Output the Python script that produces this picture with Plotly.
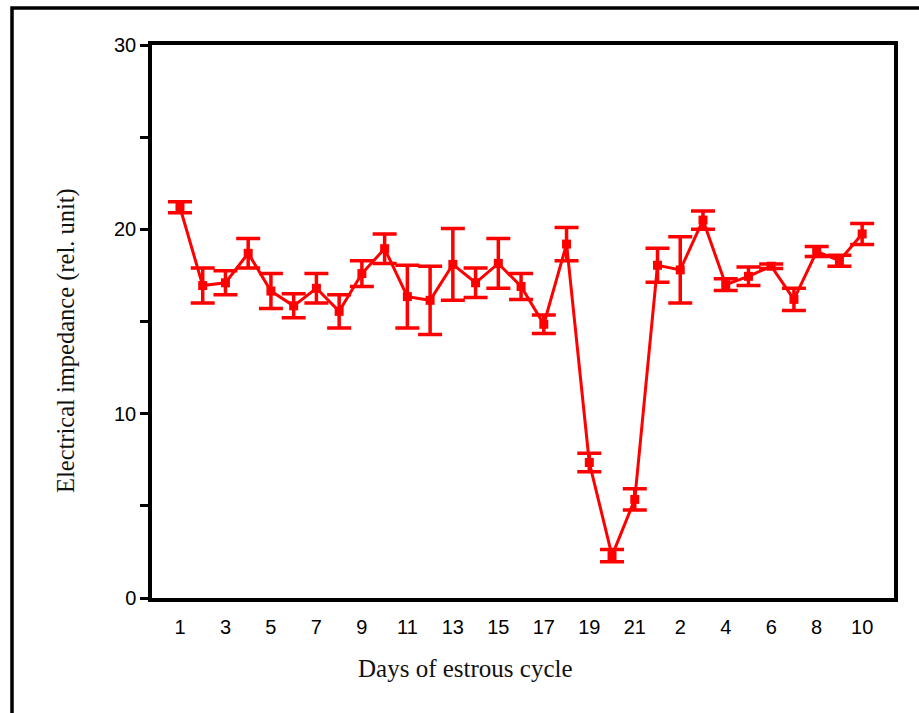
import plotly.graph_objects as go

# Data
day_labels = ["1","2","3","4","5","6","7","8","9","10","11","12","13","14","15","16","17","18","19","20","21",
              "1","2","3","4","5","6","7","8","9","10"]
impedance = [21.2, 16.95, 17.1, 18.7, 16.65, 15.85, 16.8, 15.55, 17.6, 18.95, 16.35, 16.15, 18.1,
             17.1, 18.15, 16.9, 14.85, 19.2, 7.35, 2.3, 5.35,
             18.05, 17.8, 20.5, 17.0, 17.45, 18.0, 16.2, 18.8, 18.3, 19.75]
sem = [0.3, 0.95, 0.65, 0.8, 0.95, 0.65, 0.8, 0.9, 0.7, 0.8, 1.7, 1.85, 1.95,
       0.8, 1.35, 0.7, 0.5, 0.9, 0.5, 0.33, 0.58,
       0.92, 1.8, 0.5, 0.32, 0.5, 0.12, 0.6, 0.27, 0.3, 0.57]
tick_idx = [0, 2, 4, 6, 8, 10, 12, 14, 16, 18, 20, 22, 24, 26, 28, 30]
tick_text = [day_labels[i] for i in tick_idx]

x = list(range(len(impedance)))

W, H = 919, 713
ml, mr, mt, mb = 152, 25, 45, 115
pw, ph = W - ml - mr, H - mt - mb

def px(xpix):
    return (xpix - ml) / pw

def py(ypix):
    return (H - mb - ypix) / ph

fig = go.Figure()
fig.add_trace(go.Scatter(
    x=x, y=impedance, mode="lines+markers",
    line=dict(color="#ff0000", width=3),
    marker=dict(symbol="square", size=9, color="#ff0000"),
    error_y=dict(type="data", array=sem, visible=True, color="#ff0000", thickness=3.5, width=12),
    showlegend=False,
    cliponaxis=False,
))

fig.update_layout(
    width=W, height=H,
    margin=dict(l=ml, r=mr, t=mt, b=mb),
    paper_bgcolor="white", plot_bgcolor="white",
    font=dict(family="Liberation Sans, Arial", color="black"),
    xaxis=dict(
        range=[-1.23, 31.4], tickmode="array", tickvals=tick_idx, ticktext=tick_text,
        showgrid=False, zeroline=False, showline=True, linecolor="black", linewidth=3.5,
        mirror=True, ticks="", ticklabelstandoff=8, tickfont=dict(size=20),
    ),
    yaxis=dict(
        range=[0, 30], tickmode="array", tickvals=[0, 10, 20, 30],
        showgrid=False, zeroline=False, showline=True, linecolor="black", linewidth=3.5,
        mirror=True, ticks="outside", ticklen=8, tickwidth=3, tickcolor="black",
        tickfont=dict(size=20),
        minor=dict(tickvals=[5, 15, 25], ticks="outside", ticklen=8, tickwidth=3, tickcolor="black"),
    ),
    annotations=[
        dict(text="Days of estrous cycle", x=px(465), y=py(668), xref="paper", yref="paper",
             showarrow=False, xanchor="center", yanchor="middle",
             font=dict(family="Liberation Serif, Times New Roman", size=25, color="#111")),
        dict(text="Electrical impedance (rel. unit)", x=px(66), y=py(341), xref="paper", yref="paper",
             showarrow=False, xanchor="center", yanchor="middle", textangle=-90,
             font=dict(family="Liberation Serif, Times New Roman", size=24.5, color="#111")),
    ],
    shapes=[
        dict(type="rect", xref="paper", yref="paper",
             x0=px(12), x1=px(935), y0=py(730), y1=py(8),
             line=dict(color="black", width=3.5), fillcolor="rgba(0,0,0,0)", layer="above"),
    ],
)

fig.write_html("out.html", config={"displayModeBar": False},
               post_script="document.body.style.margin='0';document.body.style.overflow='hidden';")
